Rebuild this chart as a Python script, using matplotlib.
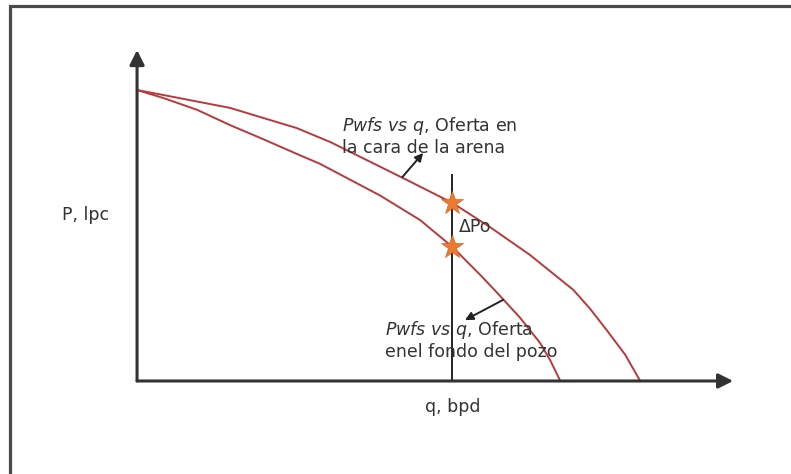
import matplotlib.pyplot as plt
from matplotlib.patches import Rectangle

# Curves of pressure vs rate (q in % of axis, P in % of axis)
q_sand = [0, 4.4, 15.6, 26.8, 32.4, 45.3, 52.9, 59.2, 65.9, 70.1, 73.2,
          76.0, 78.9, 81.9, 84.4]
p_sand = [87.9, 86.4, 82.5, 76.4, 72.2, 60.7, 53.8, 46.5, 38.1, 32.0, 27.5,
          21.8, 15.1, 7.9, 0]

q_bottom = [0, 4.4, 10.1, 15.6, 21.1, 26.8, 30.7, 40.8, 47.5, 52.9, 57.6,
            60.9, 64.3, 67.6, 69.3, 71.0]
p_bottom = [87.9, 85.5, 81.9, 77.3, 73.1, 68.6, 65.6, 56.0, 48.6, 40.5, 32.0,
            25.7, 19.0, 11.5, 6.3, 0]

# operating rate and the two pressures marked on it
q_op = 52.9
p_stars = [53.8, 40.5]
p_line_top = 62.2

red = '#b8393c'
ink = '#333333'

fig = plt.figure(figsize=(7.91, 4.74), dpi=100)
ax = fig.add_axes([0, 0, 1, 1])
ax.set_xlim(-22.99, 109.7)
ax.set_ylim(-28.1, 115.1)
ax.axis('off')

# frame around the whole drawing
ax.add_patch(Rectangle((10 / 791, -0.1), 1.2, 0.1 + (1 - 6 / 474),
                       transform=ax.transAxes, fill=False,
                       lw=2.3, ec='#4a4a4a', clip_on=False))

# axes with arrow heads
arrow = dict(arrowstyle='-|>', lw=2.2, color=ink, mutation_scale=22,
             shrinkA=0, shrinkB=0)
ax.annotate('', xy=(100, 0), xytext=(0, 0), arrowprops=arrow)
ax.annotate('', xy=(0, 100), xytext=(0, 0), arrowprops=arrow)

ax.plot(q_sand, p_sand, color=red, lw=1.4)
ax.plot(q_bottom, p_bottom, color=red, lw=1.4)

ax.plot([q_op, q_op], [0, p_line_top], color='#222222', lw=1.4)
ax.plot([q_op] * len(p_stars), p_stars, ls='none', marker='*',
        ms=17, color='#ea7a2f', mec='#d9652a', mew=0.5, zorder=5)

small = dict(arrowstyle='-|>', lw=1.4, color='#222222', mutation_scale=12,
             shrinkA=0, shrinkB=0)
ax.annotate('', xy=(48.0, 68.9), xytext=(44.5, 61.6), arrowprops=small)
ax.annotate('', xy=(55.0, 18.4), xytext=(61.4, 24.5), arrowprops=small)

font = dict(family='DejaVu Sans', fontsize=12.5, color=ink)
ax.text(34.4, 74.0, '$\\mathit{Pwfs\\ vs\\ q}$, Oferta en\nla cara de la arena',
        ha='left', va='center', linespacing=1.2, **font)
ax.text(41.6, 12.4, '$\\mathit{Pwfs\\ vs\\ q}$, Oferta\nenel fondo del pozo',
        ha='left', va='center', linespacing=1.2, **font)
ax.text(53.9, 46.5, 'ΔPo', ha='left', va='center', **font)
ax.text(-12.6, 50.2, 'P, lpc', ha='left', va='center', **font)
ax.text(52.9, -7.9, 'q, bpd', ha='center', va='center', **font)

fig.savefig('out.png', dpi=100)
